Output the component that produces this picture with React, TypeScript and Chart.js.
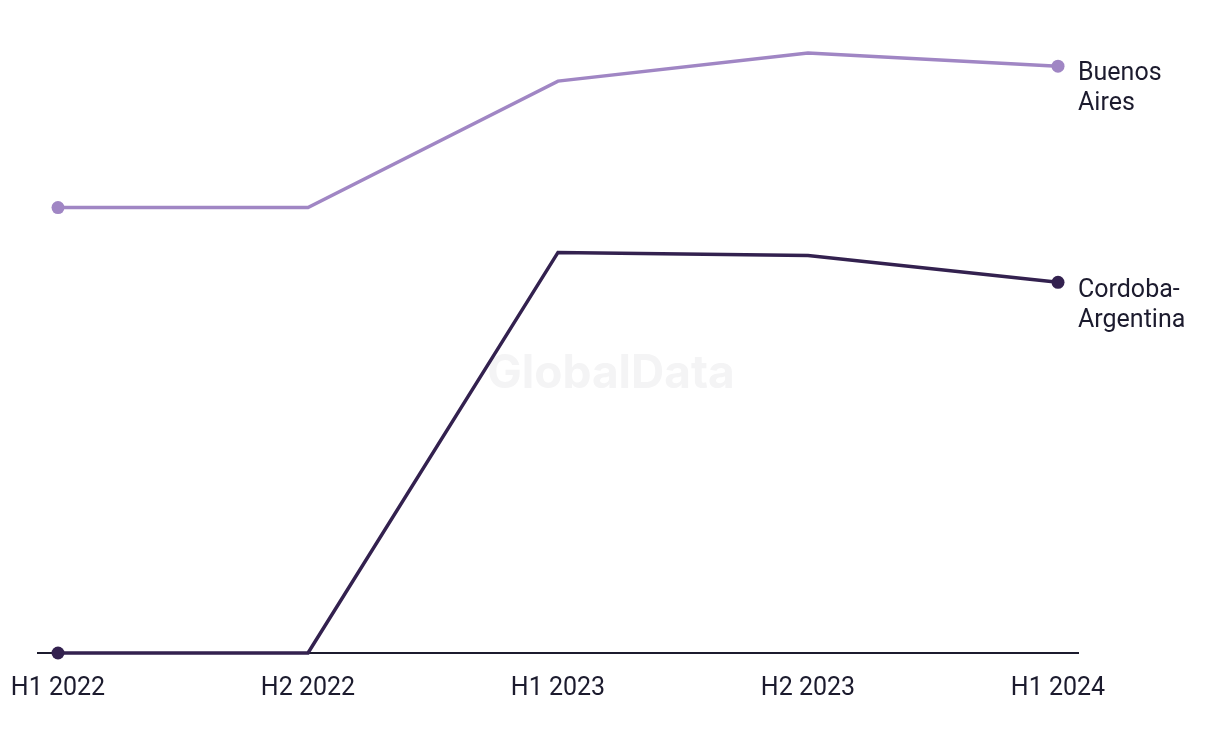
import React, { useEffect, useRef } from "react";
import { Chart, registerables } from "chart.js";

Chart.register(...registerables);

const categories = ["H1 2022", "H2 2022", "H1 2023", "H2 2023", "H1 2024"];
const buenosAires = [71.5, 71.5, 91.8, 96.3, 94.2];
const cordoba = [0, 0, 64.3, 63.8, 59.5];
const seriesLabels = [["Buenos", "Aires"], ["Cordoba-", "Argentina"]];
const colors = ["#a086c4", "#33214f"];

export default function App() {
  const ref = useRef<HTMLCanvasElement>(null);
  useEffect(() => {
    document.body.style.margin = "0";
    const ctx = ref.current!;
    const endLabels = {
      id: "endLabels",
      afterDatasetsDraw(chart: any) {
        const c = chart.ctx;
        c.save();
        c.font = "25px Roboto";
        c.fillStyle = "#1c1b2e";
        c.textBaseline = "middle";
        c.textAlign = "left";
        chart.data.datasets.forEach((ds: any, i: number) => {
          const meta = chart.getDatasetMeta(i);
          const pt = meta.data[meta.data.length - 1];
          seriesLabels[i].forEach((line, j) => {
            c.fillText(line, pt.x + 20, pt.y + 8 + j * 30);
          });
        });
        c.restore();
      },
    };
    const watermark = {
      id: "watermark",
      beforeDatasetsDraw(chart: any) {
        const c = chart.ctx;
        c.save();
        c.font = "bold 46px Inter";
        c.fillStyle = "#f4f4f5";
        c.textAlign = "center";
        c.textBaseline = "middle";
        c.fillText("GlobalData", 611, 374);
        c.restore();
      },
    };
    const chart = new Chart(ctx, {
      type: "line",
      data: {
        datasets: [
          {
            label: "Buenos Aires",
            data: buenosAires.map((v, i) => ({ x: i, y: v })),
            borderColor: colors[0],
            backgroundColor: colors[0],
            borderWidth: 3.5,
            pointRadius: buenosAires.map((_, i) => (i === 0 || i === buenosAires.length - 1 ? 6.5 : 0)),
            pointBorderWidth: 0,
            tension: 0,
            clip: false as any,
          },
          {
            label: "Cordoba-Argentina",
            data: cordoba.map((v, i) => ({ x: i, y: v })),
            borderColor: colors[1],
            backgroundColor: colors[1],
            borderWidth: 3.5,
            pointRadius: cordoba.map((_, i) => (i === 0 || i === cordoba.length - 1 ? 6.5 : 0)),
            pointBorderWidth: 0,
            tension: 0,
            clip: false as any,
          },
        ],
      },
      options: {
        animation: false,
        responsive: false,
        maintainAspectRatio: false,
        layout: { padding: { left: 38, right: 142, top: 30, bottom: 19 } },
        plugins: { legend: { display: false }, tooltip: { enabled: false } },
        scales: {
          x: {
            type: "linear",
            min: -0.08,
            max: 4.08,
            afterBuildTicks: (axis: any) => {
              axis.ticks = categories.map((_, i) => ({ value: i }));
            },
            afterFit: (axis: any) => {
              axis.paddingLeft = 0;
              axis.paddingRight = 0;
            },
            ticks: {
              callback: (v: any) => categories[v as number] ?? "",
              font: { family: "Roboto", size: 25 },
              color: "#1c1b2e",
              padding: 21,
              maxRotation: 0,
              autoSkip: false,
            },
            grid: { display: false, drawTicks: false },
            border: { display: true, color: "#1c1b2e", width: 2 },
          },
          y: {
            display: false,
            min: 0,
            max: 100,
          },
        },
      },
      plugins: [watermark, endLabels],
    });
    return () => chart.destroy();
  }, []);
  return (
    <div style={{ width: 1220, height: 744 }}>
      <canvas ref={ref} width={1220} height={744} style={{ display: "block" }} />
    </div>
  );
}
